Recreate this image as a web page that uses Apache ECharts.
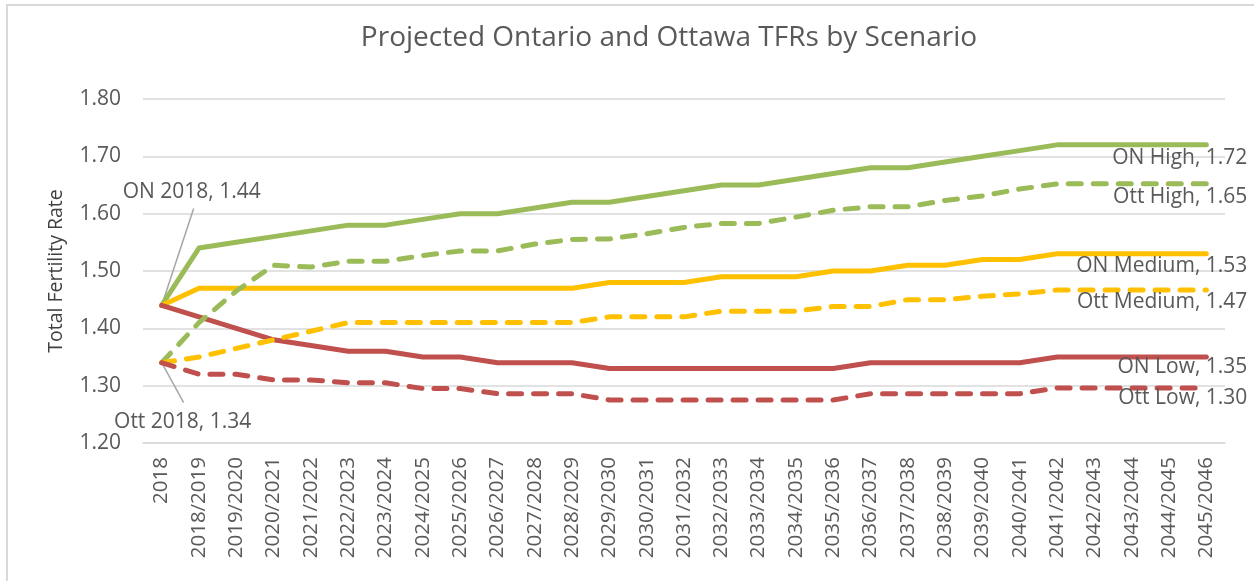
<!DOCTYPE html>
<html>
<head>
<meta charset="utf-8">
<script src="https://cdn.jsdelivr.net/npm/echarts@6/dist/echarts.min.js"></script>
<style>
html,body{margin:0;padding:0;background:#fff;}
#main{width:1254px;height:581px;}
</style>
</head>
<body>
<div id="main"></div>
<script>
const categories = ['2018','2018/2019','2019/2020','2020/2021','2021/2022','2022/2023','2023/2024','2024/2025','2025/2026','2026/2027','2027/2028','2028/2029','2029/2030','2030/2031','2031/2032','2032/2033','2033/2034','2034/2035','2035/2036','2036/2037','2037/2038','2038/2039','2039/2040','2040/2041','2041/2042','2042/2043','2043/2044','2044/2045','2045/2046'];
const onHigh = [1.44,1.54,1.55,1.56,1.57,1.58,1.58,1.59,1.60,1.60,1.61,1.62,1.62,1.63,1.64,1.65,1.65,1.66,1.67,1.68,1.68,1.69,1.70,1.71,1.72,1.72,1.72,1.72,1.72];
const onMedium = [1.44,1.47,1.47,1.47,1.47,1.47,1.47,1.47,1.47,1.47,1.47,1.47,1.48,1.48,1.48,1.49,1.49,1.49,1.50,1.50,1.51,1.51,1.52,1.52,1.53,1.53,1.53,1.53,1.53];
const onLow = [1.44,1.42,1.40,1.38,1.37,1.36,1.36,1.35,1.35,1.34,1.34,1.34,1.33,1.33,1.33,1.33,1.33,1.33,1.33,1.34,1.34,1.34,1.34,1.34,1.35,1.35,1.35,1.35,1.35];
const ottHigh = [1.34,1.41,1.465,1.51,1.507,1.517,1.517,1.527,1.535,1.535,1.547,1.555,1.556,1.565,1.576,1.583,1.583,1.594,1.606,1.612,1.612,1.623,1.631,1.643,1.652,1.652,1.652,1.652,1.652];
const ottMedium = [1.34,1.35,1.365,1.38,1.395,1.41,1.41,1.41,1.41,1.41,1.41,1.41,1.42,1.42,1.42,1.43,1.43,1.43,1.438,1.438,1.45,1.45,1.456,1.46,1.467,1.467,1.467,1.467,1.467];
const ottLow = [1.34,1.32,1.32,1.31,1.31,1.305,1.305,1.295,1.295,1.286,1.286,1.286,1.275,1.275,1.275,1.275,1.275,1.275,1.275,1.286,1.286,1.286,1.286,1.286,1.296,1.296,1.296,1.296,1.296];
const yTicks = {min: 1.2, max: 1.8, interval: 0.1};

const FONT = 'Open Sans';
const TXT = '#595959';
const GREEN = '#9BBB59', YELLOW = '#FFC000', RED = '#C0504D';

function mk(name, data, color, dashed, labelOffset) {
  return {
    name: name,
    type: 'line',
    data: data,
    symbol: 'none',
    smooth: false,
    lineStyle: {
      color: color, width: 5,
      type: dashed ? [13, 12] : 'solid',
      cap: 'round', join: 'round'
    },
    itemStyle: {color: color},
    endLabel: {
      show: true,
      formatter: (p) => name + ', ' + Number(p.value).toFixed(2),
      align: 'right',
      verticalAlign: 'middle',
      distance: 0,
      offset: labelOffset,
      color: TXT,
      fontFamily: FONT,
      fontSize: 21
    },
    emphasis: {disabled: true}
  };
}

const option = {
  animation: false,
  backgroundColor: '#ffffff',
  title: {
    text: 'Projected Ontario and Ottawa TFRs by Scenario',
    left: 664,
    textAlign: 'center',
    top: 19,
    textStyle: {color: TXT, fontFamily: FONT, fontSize: 28, fontWeight: 'normal'}
  },
  grid: {left: 143, right: 29, top: 99, bottom: 138, containLabel: false},
  xAxis: {
    type: 'category',
    data: categories,
    boundaryGap: true,
    axisLine: {show: true, lineStyle: {color: '#d9d9d9', width: 1.5}},
    axisTick: {show: false},
    axisLabel: {rotate: 90, interval: 0, margin: 14, color: TXT, fontFamily: FONT, fontSize: 20.5}
  },
  yAxis: {
    type: 'value',
    min: yTicks.min, max: yTicks.max, interval: yTicks.interval,
    name: 'Total Fertility Rate',
    nameLocation: 'middle',
    nameGap: 77,
    nameTextStyle: {color: '#404040', fontFamily: FONT, fontSize: 19.5},
    axisLine: {show: false},
    axisTick: {show: false},
    splitLine: {lineStyle: {color: '#d9d9d9', width: 1.5}},
    axisLabel: {margin: 22, color: TXT, fontFamily: FONT, fontSize: 21, formatter: (v) => v.toFixed(2)}
  },
  series: [
    mk('ON High', onHigh, GREEN, false, [41, 13]),
    mk('ON Medium', onMedium, YELLOW, false, [41, 12]),
    mk('ON Low', onLow, RED, false, [41, 10]),
    mk('Ott High', ottHigh, GREEN, true, [41, 13]),
    mk('Ott Medium', ottMedium, YELLOW, true, [41, 12]),
    mk('Ott Low', ottLow, RED, true, [41, 10])
  ]
};

const chart = echarts.init(document.getElementById('main'));
chart.setOption(option);

const pOn = chart.convertToPixel({gridIndex: 0}, [categories[0], onHigh[0]]);
const pOtt = chart.convertToPixel({gridIndex: 0}, [categories[0], ottHigh[0]]);
chart.setOption({
  graphic: [
    {type: 'rect', silent: true, z: -1, shape: {x: 7, y: 5, width: 1400, height: 800},
     style: {fill: 'none', stroke: '#d9d9d9', lineWidth: 2}},
    {type: 'line', silent: true, z: 1, shape: {x1: pOn[0], y1: pOn[1], x2: pOn[0] + 32, y2: pOn[1] - 97},
     style: {stroke: '#a6a6a6', lineWidth: 1.5}},
    {type: 'text', silent: true, x: pOn[0] + 30, y: pOn[1] - 113,
     style: {text: 'ON 2018, ' + onHigh[0].toFixed(2), fill: TXT, font: '21px "Open Sans"', align: 'center', verticalAlign: 'middle'}},
    {type: 'line', silent: true, z: 1, shape: {x1: pOtt[0], y1: pOtt[1], x2: pOtt[0] + 22, y2: pOtt[1] + 40},
     style: {stroke: '#a6a6a6', lineWidth: 1.5}},
    {type: 'text', silent: true, x: pOtt[0] + 21, y: pOtt[1] + 59,
     style: {text: 'Ott 2018, ' + ottHigh[0].toFixed(2), fill: TXT, font: '21px "Open Sans"', align: 'center', verticalAlign: 'middle'}}
  ]
});
</script>
</body>
</html>
